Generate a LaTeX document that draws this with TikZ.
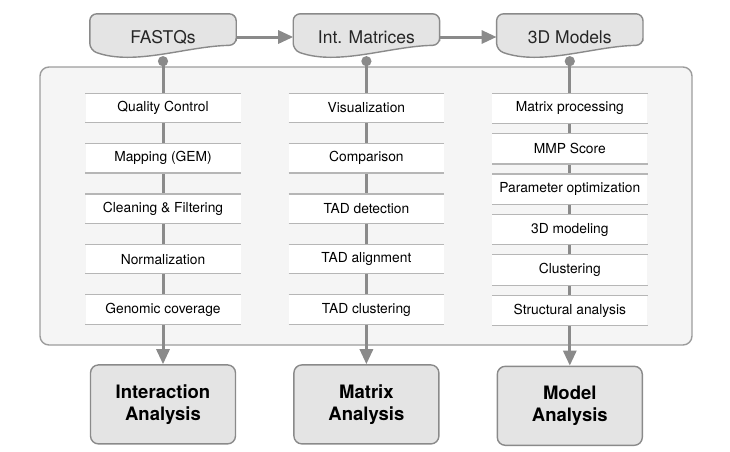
\documentclass[tikz,border=0pt]{standalone}
\usepackage{fontspec}
\setmainfont{TeX Gyre Heros}
\usepackage{xcolor}
\usetikzlibrary{
  graphs,
  positioning,
  calc,
  arrows.meta,
  backgrounds,
}
\definecolor{linegray}{HTML}{8A8A8A}
\definecolor{rulegray}{HTML}{B6B6B6}
\definecolor{docfill}{HTML}{E4E4E4}
\definecolor{panelfill}{HTML}{F5F5F5}
\definecolor{panelline}{HTML}{9C9C9C}
\tikzset{
  doc/.style={
    minimum width=146pt,
    minimum height=46pt,
    inner sep=0pt,
    text=black!85,
    font=\fontsize{17.5}{20}\selectfont
  },
  doc shape/.style={
    draw=linegray,
    fill=docfill,
    line width=1.4pt,
    rounded corners=7pt
  },
  steprule/.style={
    draw=rulegray,
    line width=1.2pt
  },
  stepbox/.style={
    fill=white,
    minimum width=155pt,
    minimum height=29pt,
    inner sep=0pt,
    font=\fontsize{13.8}{15}\selectfont,
    append after command={
      (\tikzlastnode.north west) edge[steprule] (\tikzlastnode.north east)
      (\tikzlastnode.south west) edge[steprule] (\tikzlastnode.south east)
    }
  },
  result/.style={
    draw=linegray,
    fill=docfill,
    line width=1.4pt,
    rounded corners=8pt,
    minimum width=145pt,
    minimum height=79pt,
    align=center,
    font=\bfseries\fontsize{18.5}{22}\selectfont
  },
  panel/.style={
    draw=panelline,
    fill=panelfill,
    line width=1.4pt,
    rounded corners=9pt
  },
  flow/.style={
    draw=linegray,
    line width=3pt,
    -{Triangle[length=15pt,width=13pt]}
  },
  tailed/.style={
    {Circle[length=10pt,width=10pt]}-{Triangle[length=15pt,width=13pt]},
    shorten <=-4pt
  }
}

\begin{document}
\begin{tikzpicture}[x=1pt, y=-1pt]
  \useasboundingbox (0,0) rectangle (730,451);

  % inputs
  \node[doc] (fastq) at (163,37) {FASTQs};
  \node[doc, right=57pt of fastq]  (intmat) {Int. Matrices};
  \node[doc, right=57pt of intmat] (models) {3D Models};

  % interaction steps
  \node[stepbox, below=33pt of fastq] (qc)    {Quality Control};
  \node[stepbox, below=21pt of qc]    (map)   {Mapping (GEM)};
  \node[stepbox, below=21pt of map]   (clean) {Cleaning \& Filtering};
  \node[stepbox, below=21pt of clean] (norm)  {Normalization};
  \node[stepbox, below=21pt of norm]  (cov)   {Genomic coverage};

  % matrix steps
  \node[stepbox, below=33pt of intmat] (vis)  {Visualization};
  \node[stepbox, below=21pt of vis]    (comp) {Comparison};
  \node[stepbox, below=21pt of comp]   (tadd) {TAD detection};
  \node[stepbox, below=21pt of tadd]   (tada) {TAD alignment};
  \node[stepbox, below=21pt of tada]   (tadc) {TAD clustering};

  % model steps
  \node[stepbox, minimum height=30pt, below=33pt of models] (mproc)   {Matrix processing};
  \node[stepbox, minimum height=30pt, below=10pt of mproc]  (mmp)     {MMP Score};
  \node[stepbox, minimum height=30pt, below=10pt of mmp]    (popt)    {Parameter optimization};
  \node[stepbox, minimum height=30pt, below=10pt of popt]   (model3d) {3D modeling};
  \node[stepbox, minimum height=30pt, below=10pt of model3d] (clus)   {Clustering};
  \node[stepbox, minimum height=30pt, below=10pt of clus]   (struct)  {Structural analysis};

  % outputs
  \node[result, below=40pt of cov]    (inter) {Interaction\\Analysis};
  \node[result, below=40pt of tadc]   (matan) {Matrix\\Analysis};
  \node[result, below=40pt of struct] (modan) {Model\\Analysis};

  \begin{scope}[on background layer]
    \draw[panel] (40,67) rectangle (692,345);

    \foreach \n in {fastq,intmat,models}
      \draw[doc shape]
        ([shift={(0,-15)}]\n.south east) -- (\n.north east) -- (\n.north west)
        -- ([shift={(0,-10)}]\n.south west)
        .. controls ([shift={(45,6)}]\n.south west)
                and ([shift={(-50,-14)}]\n.south east)
        .. ([shift={(0,-15)}]\n.south east) -- cycle;

    \graph[edges={flow}]{
      (fastq) -> (intmat) -> (models);
    };
    \graph[edges={flow, tailed}]{
      (fastq) -> (inter);
      (intmat) -> (matan);
      (models) -> (modan);
    };
  \end{scope}
\end{tikzpicture}
\end{document}
